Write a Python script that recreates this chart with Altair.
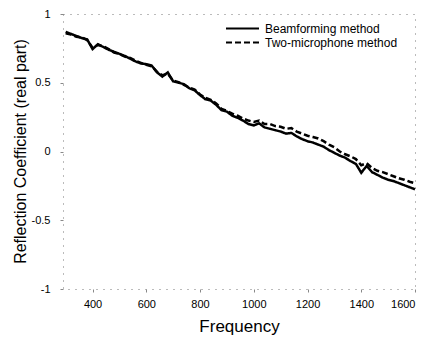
import altair as alt
import pandas as pd

freq = list(range(300, 1601, 20))

beamforming = [0.87, 0.855, 0.84, 0.825, 0.815, 0.745, 0.78, 0.76, 0.74, 0.725,
               0.71, 0.695, 0.675, 0.655, 0.64, 0.635, 0.625, 0.575, 0.545, 0.575,
               0.51, 0.5, 0.49, 0.46, 0.445, 0.41, 0.38, 0.37, 0.34, 0.3,
               0.29, 0.26, 0.245, 0.225, 0.2, 0.19, 0.205, 0.175, 0.165, 0.155,
               0.145, 0.13, 0.135, 0.11, 0.09, 0.075, 0.065, 0.05, 0.035, 0.01,
               -0.01, -0.03, -0.045, -0.07, -0.09, -0.155, -0.105, -0.15, -0.17, -0.19,
               -0.205, -0.215, -0.23, -0.245, -0.26, -0.275]

two_mic = [0.86, 0.85, 0.835, 0.83, 0.81, 0.755, 0.775, 0.765, 0.745, 0.72,
           0.71, 0.69, 0.68, 0.66, 0.645, 0.63, 0.62, 0.58, 0.555, 0.565,
           0.515, 0.505, 0.485, 0.465, 0.45, 0.415, 0.39, 0.375, 0.35, 0.31,
           0.295, 0.275, 0.26, 0.24, 0.225, 0.215, 0.225, 0.2, 0.2, 0.185,
           0.18, 0.165, 0.17, 0.145, 0.13, 0.115, 0.105, 0.095, 0.075, 0.05,
           0.03, 0.0, -0.02, -0.035, -0.055, -0.1, -0.085, -0.12, -0.14, -0.15,
           -0.165, -0.18, -0.195, -0.205, -0.22, -0.23]

series_names = ["Beamforming method", "Two-microphone method"]

df = pd.concat([
    pd.DataFrame({"Frequency": freq, "value": beamforming, "method": series_names[0]}),
    pd.DataFrame({"Frequency": freq, "value": two_mic, "method": series_names[1]}),
])

font = "Liberation Sans"

chart = alt.Chart(df).mark_line(color="black", strokeWidth=2.5).encode(
    x=alt.X("Frequency:Q",
            scale=alt.Scale(domain=[290, 1600], nice=False, zero=False),
            axis=alt.Axis(values=[400, 600, 800, 1000, 1200, 1400, 1600], grid=False,
                          domain=False, tickSize=3, tickColor="#888",
                          labelExpr="'' + datum.value",
                          labelFontSize=11, labelPadding=6, labelFont=font,
                          labelColor="black",
                          title="Frequency", titleFontSize=17, titleFont=font,
                          titleFontWeight="normal", titleBaseline="middle",
                          titleY=37, titleX=176, titleColor="black")),
    y=alt.Y("value:Q",
            scale=alt.Scale(domain=[-1, 1], nice=False),
            axis=alt.Axis(values=[-1, -0.5, 0, 0.5, 1], grid=False, domain=False,
                          tickSize=3, tickColor="#888", labelFontSize=11,
                          labelPadding=10, labelFont=font, labelColor="black",
                          labelExpr="'' + datum.value",
                          title="Reflection Coefficient (real part)", titleFontSize=16,
                          titleFont=font, titleFontWeight="normal",
                          titleBaseline="middle", titleX=-43, titleY=137,
                          titleColor="black")),
    strokeDash=alt.StrokeDash("method:N",
                              scale=alt.Scale(domain=series_names,
                                              range=[[1, 0], [6, 3]]),
                              legend=alt.Legend(title=None, orient="none",
                                                legendX=162, legendY=8,
                                                symbolType="M-3,0H3",
                                                symbolStrokeColor="black",
                                                symbolStrokeWidth=2,
                                                symbolSize=121,
                                                symbolOffset=11,
                                                labelOffset=16,
                                                labelFontSize=12, labelFont=font,
                                                labelColor="black",
                                                rowPadding=1)),
).properties(
    width=352, height=275,
    autosize=alt.AutoSizeParams(type="none"),
    padding={"left": 55, "top": 6, "right": 15, "bottom": 46},
).configure_view(
    stroke="#777", strokeDash=[1, 6], strokeWidth=1
)

chart.save("out.html", embed_options={"renderer": "svg", "actions": False})
